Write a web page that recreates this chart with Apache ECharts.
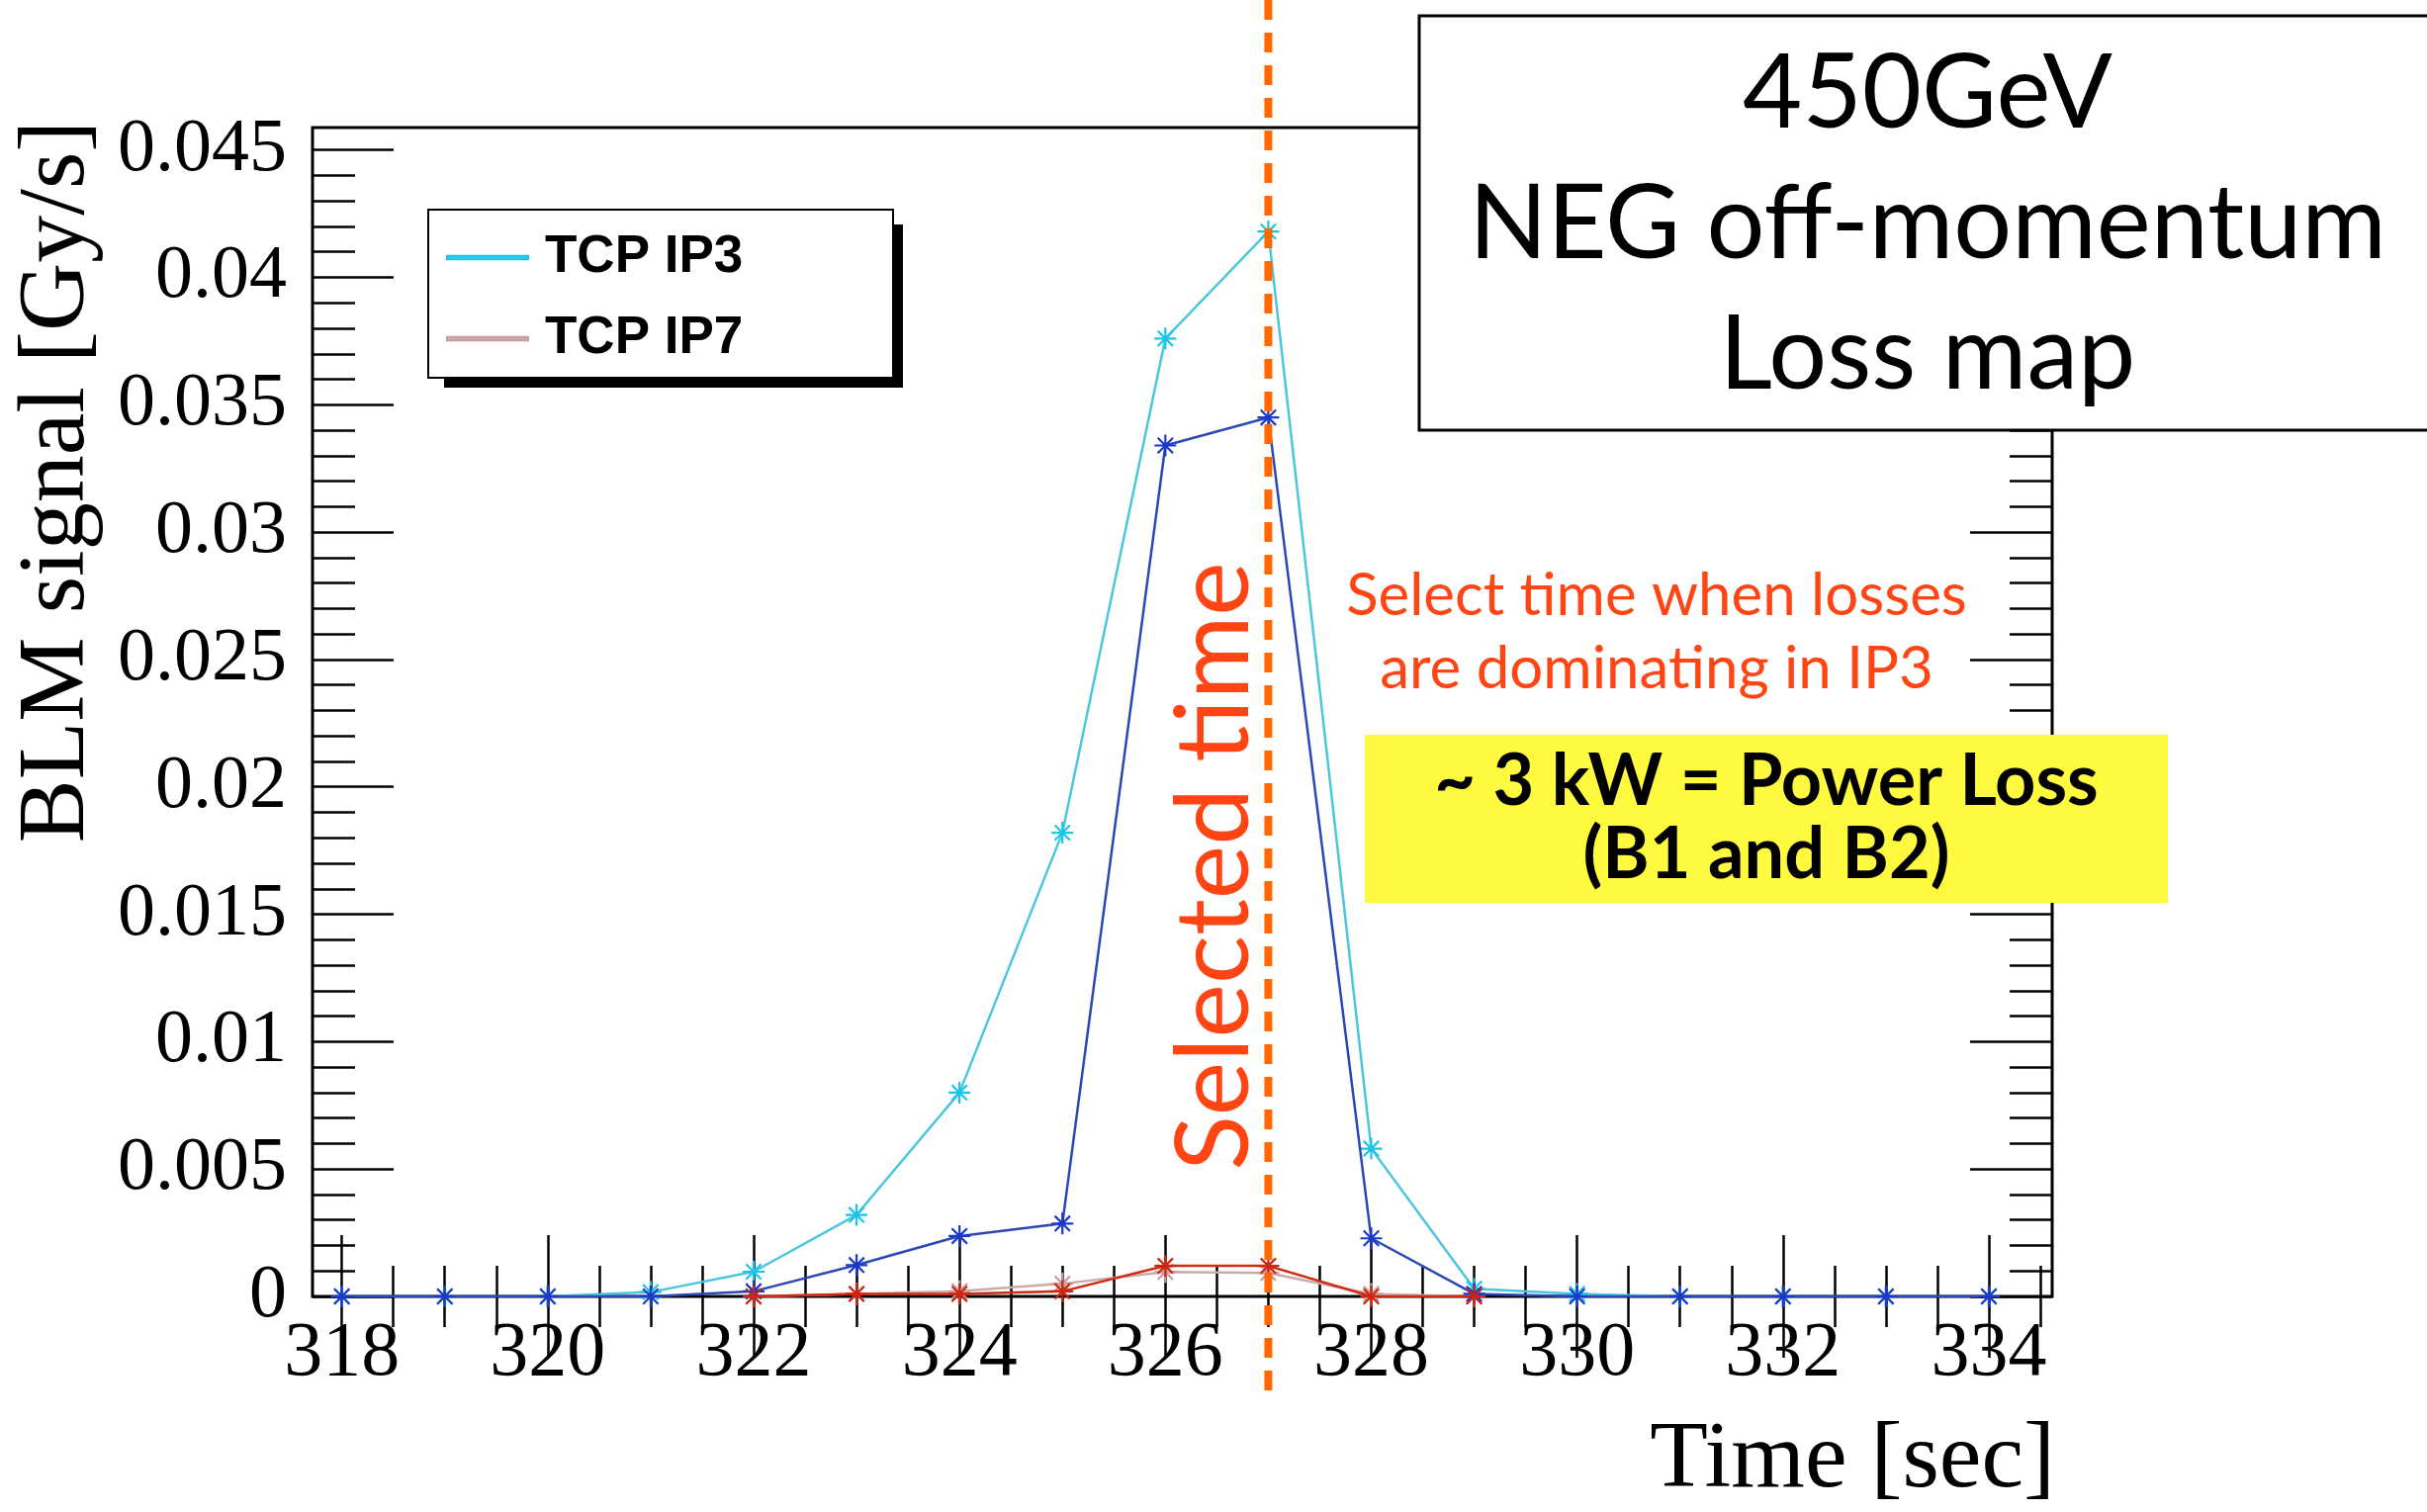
<!DOCTYPE html>
<html>
<head>
<meta charset="utf-8">
<script src="https://cdn.jsdelivr.net/npm/echarts@6/dist/echarts.min.js"></script>
<style>
  html, body { margin: 0; padding: 0; background: #ffffff; }
  #chart { width: 2454px; height: 1529px; }
</style>
</head>
<body>
<div id="chart"></div>
<script>
// ---------------- data ----------------
const times = [318, 319, 320, 321, 322, 323, 324, 325, 326, 327, 328, 329, 330, 331, 332, 333, 334];
// TCP IP3 (light cyan)
const ip3Light = [0, 0, 0, 0.00017, 0.00097, 0.0032, 0.0080, 0.0182, 0.0376, 0.0418, 0.0058, 0.0003, 0.0001, 0, 0, 0, 0];
// TCP IP3 (dark blue)
const ip3Dark = [0, 0, 0, 0, 0.0002, 0.00123, 0.00237, 0.00286, 0.0334, 0.0345, 0.00228, 0.0001, 0, 0, 0, 0, 0];
const ip7Times = [322, 323, 324, 325, 326, 327, 328, 329];
// TCP IP7 (light pink)
const ip7Light = [0, 0.0001, 0.0002, 0.0005, 0.00096, 0.00092, 0.0001, 0];
// TCP IP7 (red)
const ip7Red = [0, 0.0001, 0.0001, 0.0002, 0.0012, 0.0012, 0, 0];

const xMajorTicks = [318, 320, 322, 324, 326, 328, 330, 332, 334];
const yMajorTicks = [0, 0.005, 0.01, 0.015, 0.02, 0.025, 0.03, 0.035, 0.04, 0.045];
const yTickLabels = ['0', '0.005', '0.01', '0.015', '0.02', '0.025', '0.03', '0.035', '0.04', '0.045'];
const selectedTime = 327;

const xMin = 317.715, xMax = 334.615;
const yMin = 0, yMax = 0.04588;

function steps(a, b, s) { const r = []; for (let v = a; v <= b + 1e-9; v += s) r.push(+v.toFixed(4)); return r; }
const xMinorTicks = steps(318, 334.5, 0.5);
const yMinorTicks = steps(0, 0.045, 0.001);

// ---------------- chart ----------------
const chart = echarts.init(document.getElementById('chart'), null, { renderer: 'canvas' });

const serif = 'Liberation Serif, Times New Roman, serif';
const star = 'path://M10,0 L10,20 M0,10 L20,10 M3,3 L17,17 M3,17 L17,3';

function tickAxis(kind, pos, ticks, len, labels) {
  const a = {
    type: 'value', position: pos,
    min: kind === 'x' ? xMin : yMin,
    max: kind === 'x' ? xMax : yMax,
    axisLine: { show: false },
    splitLine: { show: false },
    axisTick: { show: true, inside: true, length: len, customValues: ticks, lineStyle: { color: '#000', width: 2.5 } },
    axisLabel: { show: false }
  };
  if (labels) a.axisLabel = labels;
  return a;
}

function seriesOf(name, xs, ys, lineColor, markColor, z) {
  return {
    name: name, type: 'line', xAxisIndex: 0, yAxisIndex: 0,
    data: xs.map((x, i) => [x, ys[i]]),
    symbol: star, symbolSize: 22, showSymbol: true, showAllSymbol: true,
    lineStyle: { color: lineColor, width: 2.5 },
    itemStyle: { color: lineColor, borderColor: markColor, borderWidth: 2.2 },
    emphasis: { disabled: true },
    animation: false, z: z
  };
}

const option = {
  backgroundColor: '#ffffff',
  animation: false,
  grid: { left: 316, top: 129, width: 1759, height: 1182, show: true, borderColor: '#000', borderWidth: 3, backgroundColor: 'transparent', containLabel: false },
  legend: {
    data: ['TCP IP3', 'TCP IP7'],
    orient: 'vertical', left: 451, top: 234, padding: 0,
    itemWidth: 82, itemHeight: 40, itemGap: 29,
    icon: 'path://M0,0 L100,0 L100,4 L0,4 Z',
    textStyle: { fontFamily: 'Liberation Sans, Arial, sans-serif', fontWeight: 'bold', fontSize: 53, color: '#000', lineHeight: 40, padding: [0, 0, 0, 12] },
    selectedMode: false, z: 20
  },
  xAxis: [
    tickAxis('x', 'bottom', xMajorTicks, 62, { show: true, customValues: xMajorTicks, margin: 20, fontSize: 78, fontFamily: serif, color: '#000' }),
    tickAxis('x', 'bottom', xMinorTicks, 31),
    tickAxis('x', 'top', xMajorTicks, 62),
    tickAxis('x', 'top', xMinorTicks, 31)
  ],
  yAxis: [
    tickAxis('y', 'left', yMajorTicks, 82, {
      show: true, customValues: yMajorTicks, margin: 26, fontSize: 76, fontFamily: serif, color: '#000',
      formatter: v => { const i = yMajorTicks.findIndex(t => Math.abs(t - v) < 1e-7); return i >= 0 ? yTickLabels[i] : ''; }
    }),
    tickAxis('y', 'left', yMinorTicks, 43),
    tickAxis('y', 'right', yMajorTicks, 83),
    tickAxis('y', 'right', yMinorTicks, 43)
  ],
  series: [
    seriesOf('TCP IP3', times, ip3Light, '#4cc6de', '#1cc4ea', 3),
    seriesOf('TCP IP7', ip7Times, ip7Light, '#c9abab', '#c99c9c', 4),
    seriesOf('TCP IP3 B2', times, ip3Dark, '#2b48b6', '#1b38c8', 5),
    seriesOf('TCP IP7 B2', ip7Times, ip7Red, '#cf2a12', '#d02410', 6)
  ]
};
chart.setOption(option);

const px = chart.convertToPixel({ xAxisIndex: 0 }, selectedTime);
const orangeRed = '#ff4514';

chart.setOption({
  graphic: { elements: [
    // y-axis title
    { type: 'text', x: 59, y: 487, rotation: Math.PI / 2, z: 50,
      style: { text: 'BLM signal [Gy/s]', font: '96px "Liberation Serif"', fill: '#000', textAlign: 'center', textVerticalAlign: 'middle' } },
    // x-axis title
    { type: 'text', x: 2078, y: 1478, z: 50,
      style: { text: 'Time [sec]', font: '96px "Liberation Serif"', fill: '#000', textAlign: 'right', textVerticalAlign: 'middle' } },
    // legend frame + shadow
    { type: 'rect', z: 10, shape: { x: 449, y: 227, width: 464, height: 165 }, style: { fill: '#000' } },
    { type: 'rect', z: 11, shape: { x: 433, y: 212, width: 470, height: 170 }, style: { fill: '#fff', stroke: '#000', lineWidth: 2 } },
    // title box
    { type: 'rect', z: 30, shape: { x: 1435, y: 16, width: 1100, height: 419 }, style: { fill: '#fff', stroke: '#000', lineWidth: 3 } },
    { type: 'text', x: 1949, y: 227, z: 31,
      style: { text: '450GeV\nNEG off-momentum\nLoss map', font: '104px Lato', lineHeight: 132, fill: '#000', textAlign: 'center', textVerticalAlign: 'middle' } },
    // annotation
    { type: 'text', x: 1675, y: 640, z: 31,
      style: { text: 'Select time when losses\nare dominating in IP3', font: '60px Lato', lineHeight: 74, fill: orangeRed, textAlign: 'center', textVerticalAlign: 'middle' } },
    // yellow box
    { type: 'rect', z: 30, shape: { x: 1380, y: 743, width: 812, height: 170 }, style: { fill: '#fffa40' } },
    { type: 'text', x: 1786, y: 828, z: 31,
      style: { text: '~ 3 kW = Power Loss\n(B1 and B2)', font: 'bold 72px Lato', lineHeight: 74, fill: '#000', textAlign: 'center', textVerticalAlign: 'middle' } },
    // selected time dashed line
    { type: 'line', z: 40, shape: { x1: px, y1: 0, x2: px, y2: 1417 }, style: { stroke: '#ff6a00', lineWidth: 8, lineDash: [20, 13] } },
    { type: 'text', x: px - 54, y: 876, rotation: Math.PI / 2, z: 41,
      style: { text: 'Selected time', font: '103px Lato', fill: orangeRed, textAlign: 'center', textVerticalAlign: 'middle' } }
  ] }
});
</script>
</body>
</html>
